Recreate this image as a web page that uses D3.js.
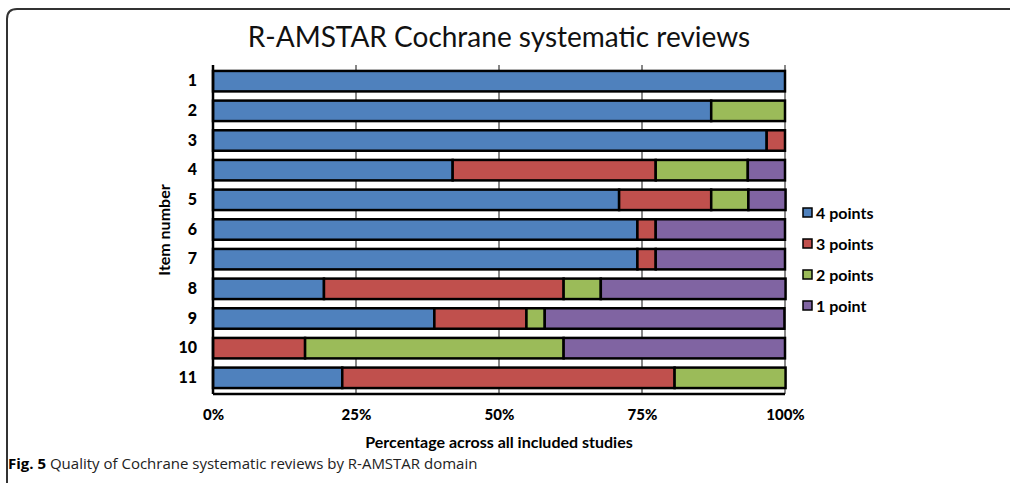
<!DOCTYPE html>
<html>
<head>
<meta charset="utf-8">
<script src="https://cdn.jsdelivr.net/npm/d3@7"></script>
<style>
  body { margin: 0; background: #fff; }
  svg { display: block; }
</style>
</head>
<body>
<svg class="main-svg" width="1010" height="483"></svg>
<script>
'use strict'

// items on the y axis, top to bottom
const items = ['1', '2', '3', '4', '5', '6', '7', '8', '9', '10', '11']
const seriesNames = ['4 points', '3 points', '2 points', '1 point']
// percentage of studies per item for each score
const fourPoints = [100, 87.1, 96.8, 41.9, 71.0, 74.2, 74.2, 19.4, 38.7, 0, 22.6]
const threePoints = [0, 0, 3.2, 35.5, 16.1, 3.2, 3.2, 41.9, 16.1, 16.1, 58.1]
const twoPoints = [0, 12.9, 0, 16.1, 6.5, 0, 0, 6.5, 3.2, 45.2, 19.4]
const onePoint = [0, 0, 0, 6.5, 6.5, 22.6, 22.6, 32.3, 41.9, 38.7, 0]
const xTicks = [0, 25, 50, 75, 100]
const colors = ['#4F81BD', '#C0504D', '#9BBB59', '#8064A2']

;(function (d3) {
  const svg = d3.select('.main-svg')
  const margin = { top: 65, left: 213, width: 572, height: 329 }
  const font = 'Lato, "Open Sans", sans-serif'

  // frame around the figure
  svg.append('path')
    .attr('d', 'M7,500 L7,19 Q7,9 17,9 L1012,9')
    .attr('fill', 'none')
    .attr('stroke', '#333')
    .attr('stroke-width', 2)

  svg.append('text')
    .attr('x', 499).attr('y', 47)
    .attr('text-anchor', 'middle')
    .style('font-family', font)
    .style('font-size', '28px')
    .attr('fill', '#111')
    .text('R-AMSTAR Cochrane systematic reviews')

  const table = items.map((it, i) => ({
    item: it,
    '4 points': fourPoints[i],
    '3 points': threePoints[i],
    '2 points': twoPoints[i],
    '1 point': onePoint[i]
  }))
  const stacked = d3.stack().keys(seriesNames)(table)

  const x = d3.scaleLinear().domain([0, 100]).range([0, margin.width])
  const y = d3.scaleBand().domain(items).range([0, margin.height]).paddingInner(0.31).paddingOuter(0.2)
  const color = d3.scaleOrdinal().domain(seriesNames).range(colors)

  const g = svg.append('g').attr('transform', `translate(${margin.left},${margin.top})`)

  // gridlines
  g.selectAll('.grid').data(xTicks.slice(1))
    .join('line')
    .attr('x1', d => x(d)).attr('x2', d => x(d))
    .attr('y1', 0).attr('y2', margin.height)
    .attr('stroke', '#888').attr('stroke-width', 2)

  g.selectAll('.series').data(stacked)
    .join('g')
    .attr('fill', d => color(d.key))
    .selectAll('rect')
    .data(d => d.filter(v => v[1] - v[0] > 0))
    .join('rect')
    .attr('x', d => x(d[0]))
    .attr('y', d => y(d.data.item))
    .attr('width', d => x(d[1]) - x(d[0]))
    .attr('height', y.bandwidth())
    .attr('stroke', '#000')
    .attr('stroke-width', 2.5)

  // axis lines
  g.append('line').attr('x1', 0).attr('x2', 0).attr('y1', 0).attr('y2', margin.height)
    .attr('stroke', '#000').attr('stroke-width', 2.5)
  g.append('line').attr('x1', 0).attr('x2', margin.width).attr('y1', margin.height).attr('y2', margin.height)
    .attr('stroke', '#000').attr('stroke-width', 2.5)

  const yAxis = g.append('g')
    .call(d3.axisLeft(y).tickSize(0).tickPadding(16))
  yAxis.select('.domain').remove()
  yAxis.selectAll('text')
    .style('font-family', font).style('font-size', '16px').style('font-weight', '900').attr('fill', '#000')

  const xAxis = g.append('g')
    .attr('transform', `translate(0,${margin.height})`)
    .call(d3.axisBottom(x).tickValues(xTicks).tickFormat(d => d + '%').tickSize(0).tickPadding(15))
  xAxis.select('.domain').remove()
  xAxis.selectAll('text')
    .style('font-family', font).style('font-size', '15px').style('font-weight', '900').attr('fill', '#000')

  svg.append('text')
    .attr('x', 499).attr('y', 448)
    .attr('text-anchor', 'middle')
    .style('font-family', font).style('font-size', '16px').style('font-weight', 'bold')
    .text('Percentage across all included studies')

  svg.append('text')
    .attr('transform', 'translate(170,230) rotate(-90)')
    .attr('text-anchor', 'middle')
    .style('font-family', font).style('font-size', '16px').style('font-weight', 'bold')
    .text('Item number')

  // legend
  const legend = svg.append('g').attr('transform', 'translate(803,208)')
  const rows = legend.selectAll('g').data(seriesNames).join('g')
    .attr('transform', (d, i) => `translate(0,${i * 31})`)
  rows.append('rect')
    .attr('width', 9).attr('height', 9)
    .attr('fill', d => color(d))
    .attr('stroke', '#000').attr('stroke-width', 1.5)
  rows.append('text')
    .attr('x', 13).attr('y', 10.5)
    .style('font-family', font).style('font-size', '16px').style('font-weight', 'bold')
    .text(d => d)

  // caption
  const cap = svg.append('text')
    .attr('x', 8).attr('y', 469)
    .style('font-family', '"Open Sans", sans-serif').style('font-size', '15px')
  cap.append('tspan').style('font-weight', 'bold').text('Fig. 5')
  cap.append('tspan').attr('fill', '#222').text(' Quality of Cochrane systematic reviews by R-AMSTAR domain')
})(d3)
</script>
</body>
</html>
